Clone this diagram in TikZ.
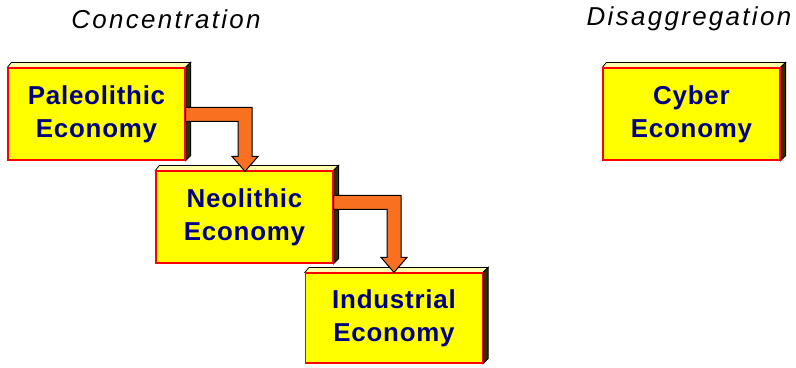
\documentclass[tikz,border=0pt]{standalone}
\usepackage{fontspec}
\setmainfont{Liberation Sans}
\newfontfamily\boxfont[LetterSpace=3]{Liberation Sans}
\newfontfamily\headfont[LetterSpace=9]{Liberation Sans}
\usetikzlibrary{calc,backgrounds}
\definecolor{econyellow}{RGB}{255,255,0}
\definecolor{econnavy}{RGB}{0,0,128}
\definecolor{bevlight}{RGB}{255,255,170}
\definecolor{bevdark}{RGB}{48,48,0}
\definecolor{arroworange}{RGB}{248,112,32}
% bent flow arrow: #1 = top-left corner of the bar, #2 = arrow tip
\newcommand\flowarrow[2]{%
  \draw[flow] (#1) -| ($(#2)+(7,-15)$) -- ++(6,0) -- (#2) -- ++(-13,-15)
    -- ++(6,0) |- ($(#1)+(0,14)$) -- cycle;}
\begin{document}
\begin{tikzpicture}[x=1bp,y=-1bp,
  econ/.style={draw=red, line width=1.2bp, fill=econyellow,
    minimum width=177bp, minimum height=92bp, inner sep=0pt, align=center,
    text=econnavy, font=\boxfont\bfseries\fontsize{26}{33}\selectfont},
  heading/.style={font=\headfont\itshape\fontsize{26}{30}\selectfont, inner sep=0pt},
  bevtop/.style={fill=bevlight, draw=black, line width=0.8bp},
  bevside/.style={fill=bevdark, draw=black, line width=0.8bp},
  flow/.style={fill=arroworange, draw=black, line width=1bp, line join=miter}]
\useasboundingbox (0,0) rectangle (796,367);

% column headings
\node[heading] (conc) at (166,19) {Concentration};
\node[heading] (disag) at (689,19) {Disaggregation};

% economy boxes (front faces)
\node[econ] (pal) at (96.5,114) {Paleolithic\\Economy};
\node[econ] (neo) at (244.5,217) {Neolithic\\Economy};
\node[econ, minimum height=90bp] (ind) at (394,318) {Industrial\\Economy};
\node[econ] (cyb) at (691.5,114) {Cyber\\Economy};

% bevelled top and right side of each box
\begin{pgfonlayer}{background}
\foreach \n in {pal,neo,ind,cyb}{
  \filldraw[bevtop] ([shift={(4bp,5bp)}]\n.north west) -- ([shift={(5bp,5bp)}]\n.north east)
    -- (\n.north east) -- (\n.north west) -- cycle;
  \filldraw[bevside] (\n.north east) -- ([shift={(5bp,5bp)}]\n.north east)
    -- ([shift={(5bp,5bp)}]\n.south east) -- (\n.south east) -- cycle;
}
\end{pgfonlayer}

% flow arrows
\coordinate (a1s) at ($(pal.north east)+(0,40)$);
\coordinate (a1t) at ($(neo.north)+(0.5,1)$);
\flowarrow{a1s}{a1t}
\coordinate (a2s) at ($(neo.north east)+(0,25)$);
\coordinate (a2t) at ($(ind.north)+(0,0)$);
\flowarrow{a2s}{a2t}
\end{tikzpicture}
\end{document}
